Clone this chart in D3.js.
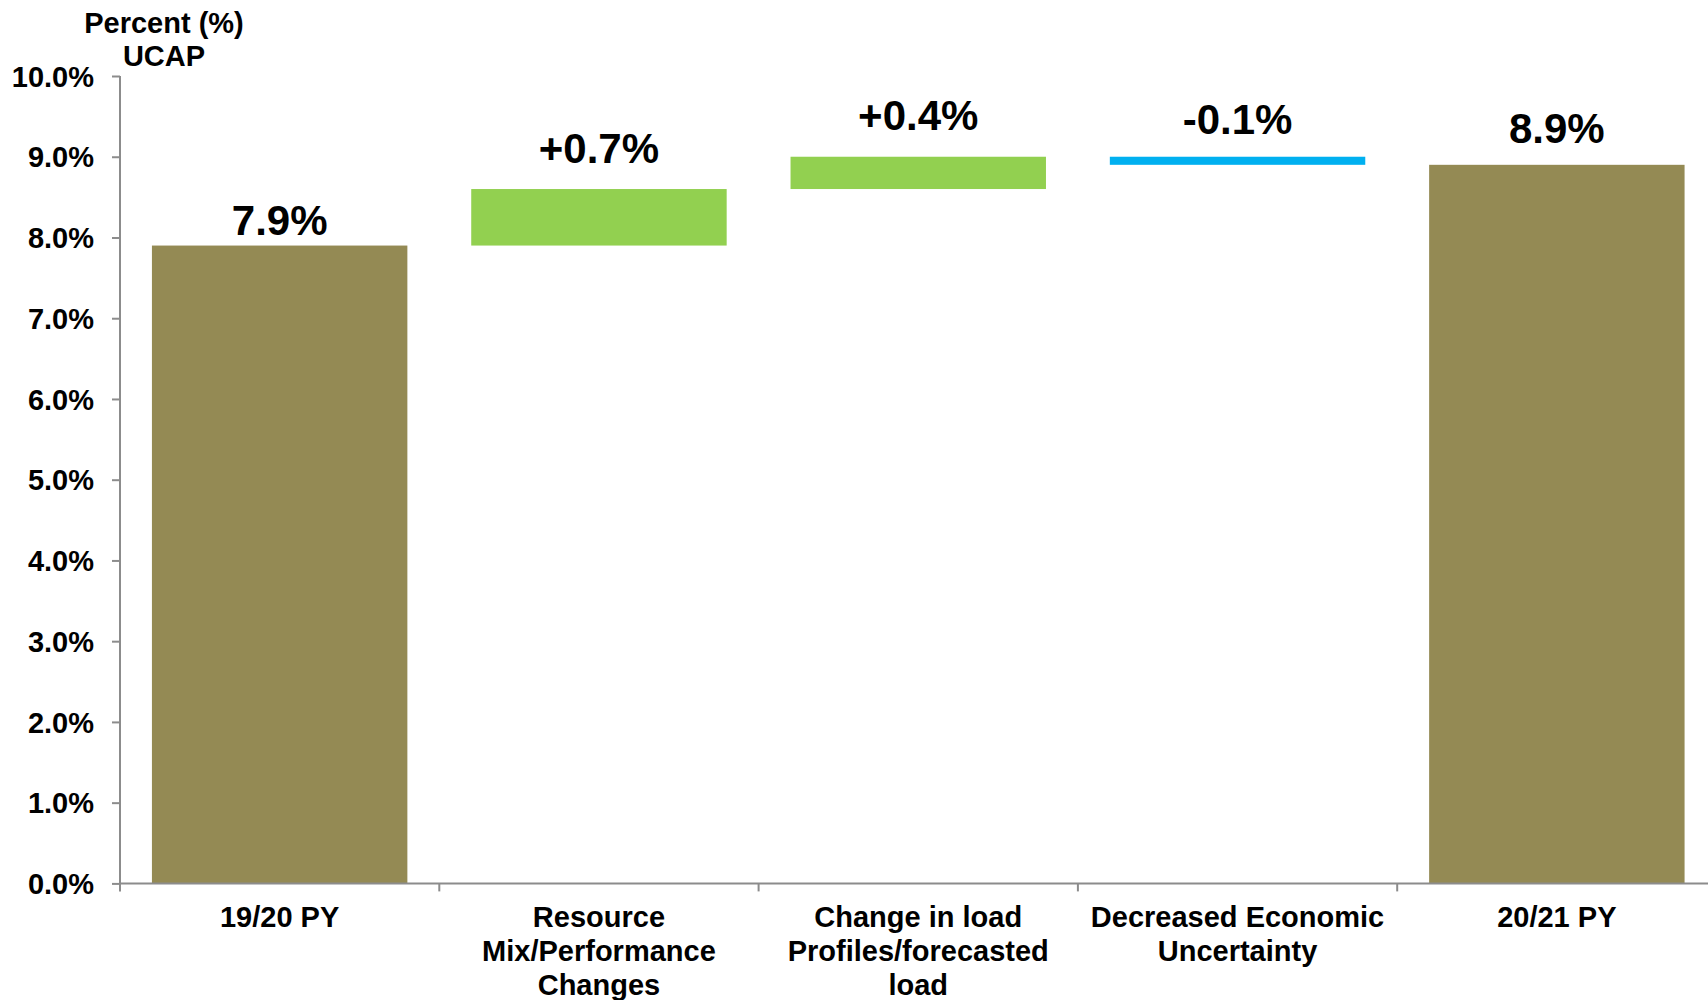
<!DOCTYPE html>
<html>
<head>
<meta charset="utf-8">
<script src="https://cdn.jsdelivr.net/npm/d3@7"></script>
<style>
  body { margin: 0; background: #fff; overflow: hidden; }
  text { font-family: "Liberation Sans", Arial, sans-serif; font-weight: bold; fill: #000; }
</style>
</head>
<body>
<svg id="chart" width="1708" height="1000"></svg>
<script>
  // data
  var categories = ["19/20 PY", "Resource\nMix/Performance\nChanges", "Change in load\nProfiles/forecasted\nload", "Decreased Economic\nUncertainty", "20/21 PY"]
  var values = [7.9, 0.7, 0.4, -0.1, 8.9]
  var kinds = ["total", "delta", "delta", "delta", "total"]
  var yTicks = [0, 1, 2, 3, 4, 5, 6, 7, 8, 9, 10]
  var axisTitle = ["Percent (%)", "UCAP"]

  // layout tweaks for the value labels (px above bar top)
  var labelGap = [11, 26, 27, 23, 22]

  var svg = d3.select("#chart")
  var x0 = 120, step = 319.3
  var x = d3.scaleBand().domain(categories).range([x0, x0 + step * categories.length]).paddingInner(0.2).paddingOuter(0.1)
  var y = d3.scaleLinear().domain([0, 10]).range([883.4, 76])

  // work out the floating segments
  var running = 0
  var bars = values.map(function(v, i) {
    var lo, hi
    if (kinds[i] === "total") { lo = 0; hi = v; running = v }
    else { lo = Math.min(running, running + v); hi = Math.max(running, running + v); running += v }
    return { cat: categories[i], v: v, kind: kinds[i], lo: lo, hi: hi, i: i }
  })

  function color(d) {
    if (d.kind === "total") return "#948A54"
    return d.v >= 0 ? "#92D050" : "#00B0F0"
  }
  function fmt(d) {
    var s = d.v.toFixed(1) + "%"
    if (d.kind === "delta" && d.v > 0) s = "+" + s
    return s
  }

  svg.selectAll("rect.bar").data(bars).enter().append("rect")
    .attr("class", "bar")
    .attr("x", function(d) { return x(d.cat) })
    .attr("width", x.bandwidth())
    .attr("y", function(d) { return y(d.hi) })
    .attr("height", function(d) { return y(d.lo) - y(d.hi) })
    .style("fill", color)

  svg.selectAll("text.val").data(bars).enter().append("text")
    .attr("class", "val")
    .attr("x", function(d) { return x(d.cat) + x.bandwidth() / 2 })
    .attr("y", function(d) { return y(d.hi) - labelGap[d.i] })
    .attr("text-anchor", "middle")
    .style("font-size", "42px")
    .text(fmt)

  // axes
  var axisCol = "#8c8c8c"
  var yAxis = d3.axisLeft(y).tickValues(yTicks).tickSize(8).tickFormat(function(d) { return d.toFixed(1) + "%" })
  var gy = svg.append("g").attr("transform", "translate(" + x0 + ",0)").call(yAxis)
  gy.select(".domain").remove()
  gy.selectAll(".tick line").attr("stroke", axisCol).attr("stroke-width", 2)
  gy.selectAll(".tick text").attr("x", -26).attr("dy", "0.35em").style("font-size", "29px").style("font-family", "Liberation Sans, Arial, sans-serif")

  svg.append("line").attr("x1", x0).attr("x2", x0).attr("y1", y(10)).attr("y2", y(0) + 8)
    .attr("stroke", axisCol).attr("stroke-width", 2)
  svg.append("line").attr("x1", x0).attr("x2", 1708).attr("y1", y(0)).attr("y2", y(0))
    .attr("stroke", axisCol).attr("stroke-width", 2)

  // category boundary ticks
  svg.selectAll("line.ctick").data(d3.range(1, categories.length)).enter().append("line")
    .attr("class", "ctick")
    .attr("x1", function(i) { return x0 + i * x.step() })
    .attr("x2", function(i) { return x0 + i * x.step() })
    .attr("y1", y(0)).attr("y2", y(0) + 8)
    .attr("stroke", axisCol).attr("stroke-width", 2)

  // category labels
  var cl = svg.selectAll("text.cat").data(categories).enter().append("text")
    .attr("class", "cat")
    .attr("text-anchor", "middle")
    .style("font-size", "29px")
  cl.each(function(c) {
    var t = d3.select(this)
    c.split("\n").forEach(function(line, k) {
      t.append("tspan").attr("x", x(c) + x.bandwidth() / 2).attr("y", 927 + k * 34).text(line)
    })
  })

  // axis title
  svg.selectAll("text.ttl").data(axisTitle).enter().append("text")
    .attr("class", "ttl")
    .attr("x", 164)
    .attr("y", function(d, i) { return 33 + i * 33 })
    .attr("text-anchor", "middle")
    .style("font-size", "29px")
    .text(function(d) { return d })
</script>
</body>
</html>
